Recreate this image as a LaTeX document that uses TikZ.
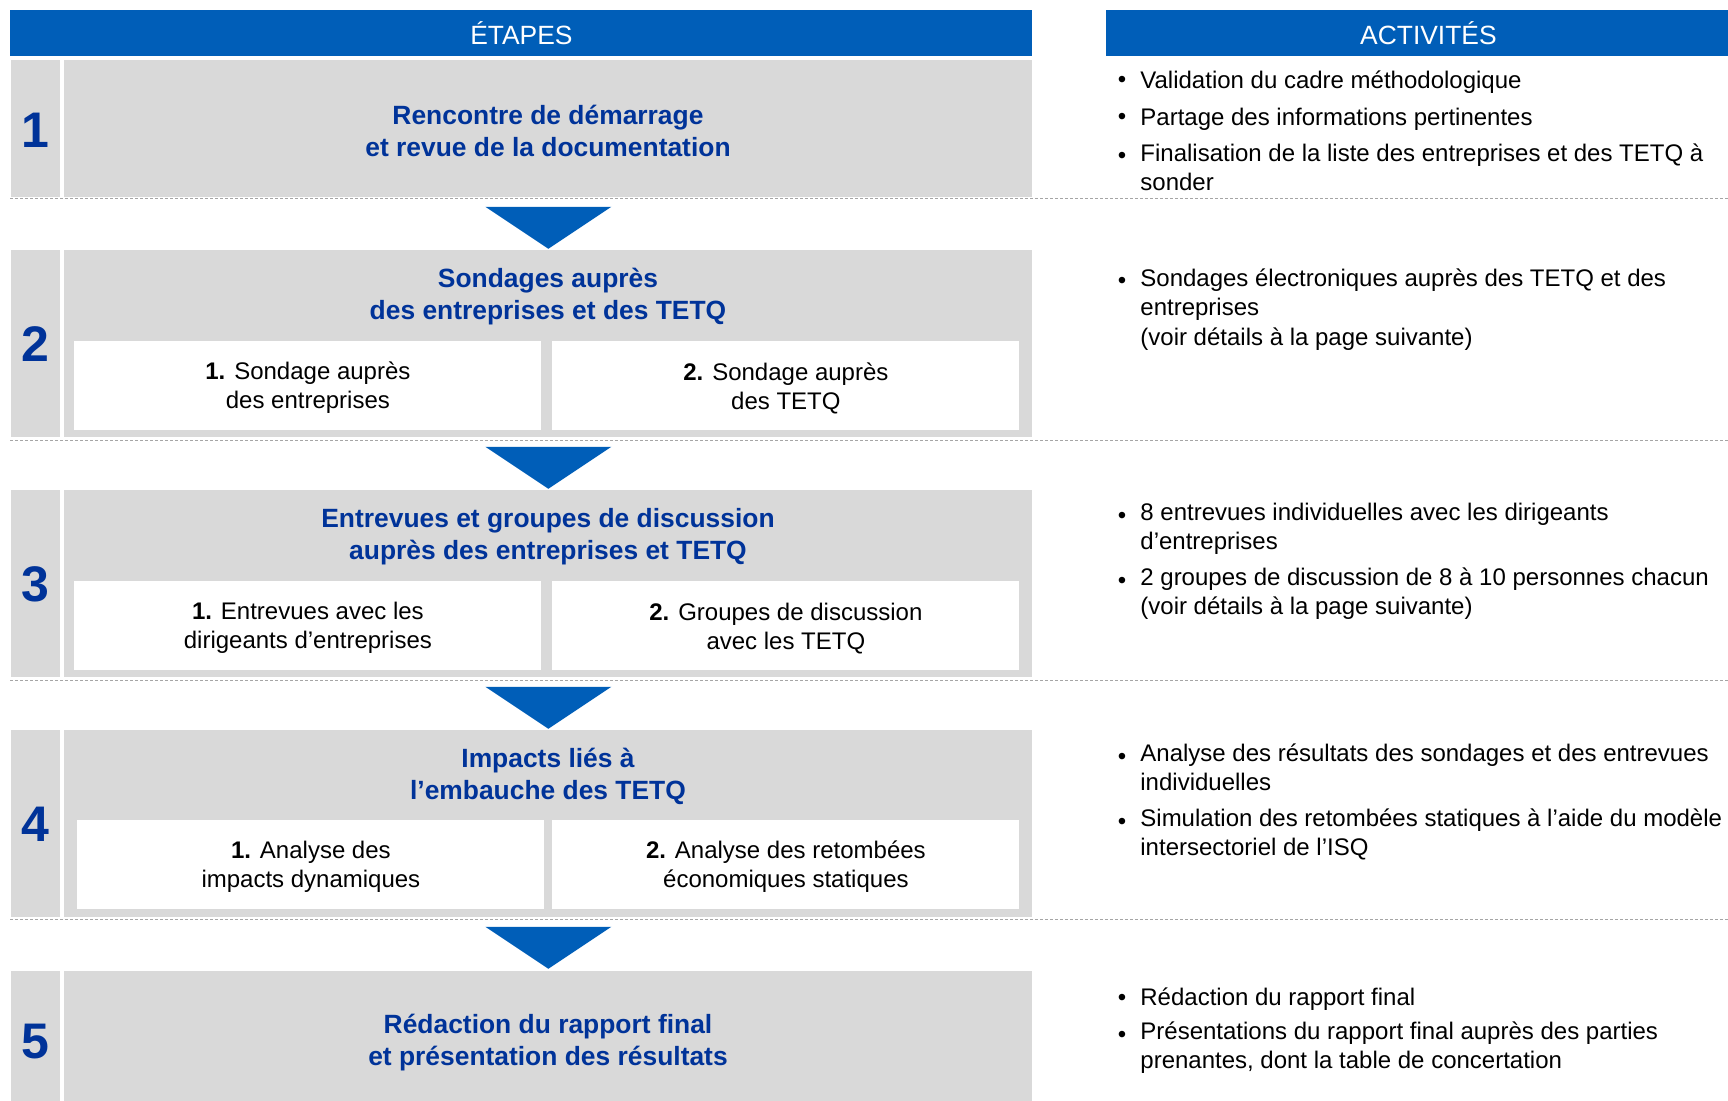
\documentclass[tikz,border=0pt]{standalone}
\usepackage{fontspec}
\setmainfont{Liberation Sans}
\usetikzlibrary{positioning}
\definecolor{bleuentete}{RGB}{0,94,184}
\definecolor{bleutitre}{RGB}{0,51,153}
\definecolor{grisfond}{RGB}{217,217,217}
\definecolor{grisligne}{RGB}{165,165,165}
\tikzset{
entete/.style={ % bandeaux bleus du haut
fill=bleuentete, text=white,
font=\fontsize{13.2}{16}\selectfont,
anchor=north west, inner sep=0pt, minimum height=23pt},
numcol/.style={fill=grisfond, anchor=north west, inner sep=0pt, minimum width=24.5pt},
etape/.style={fill=grisfond, anchor=north west, inner sep=0pt, minimum width=484pt},
numero/.style={text=bleutitre, font=\fontsize{25}{30}\selectfont\bfseries},
titre/.style={text=bleutitre, font=\fontsize{13.2}{16}\selectfont\bfseries, align=center},
sousetape/.style={ % cases blanches
fill=white, anchor=north west, inner sep=0pt,
minimum width=233.5pt, minimum height=44.5pt},
soustexte/.style={align=center, inner sep=0pt, yshift=-1.1pt, font=\fontsize{12}{14.5}\selectfont},
fleche/.style={fill=bleuentete},
separateur/.style={draw=grisligne, line width=0.5pt, dash pattern=on 1.5pt off 1pt},
activite/.style={ % la coordonnee donne la ligne de base de la 1re ligne
anchor=north west, yshift=10.22pt, align=left, inner sep=0pt,
font=\fontsize{12}{14.6}\selectfont, execute at begin node=\strut},
puce/.style={anchor=base, inner sep=0pt, font=\fontsize{12}{14.6}\selectfont}}

\begin{document}
\begin{tikzpicture}[x=0.5pt, y=-0.5pt]
	\useasboundingbox (0,0) rectangle (1728,1101);
	% en-tetes
	\node[entete, minimum width=511pt] (hEtapes) at (10,10) {ÉTAPES};
	\node[entete, minimum width=322pt] (hActivites) at (1106,10) {ACTIVITÉS};
	% etape 1
	\node[numcol, minimum height=68.5pt] (c1) at (11,60) {};
	\node[etape, minimum height=68.5pt] (e1) at (64,60) {};
	\node[numero] (n1) at (35,130) {1};
	\node[titre] (t1) at (548,131) {Rencontre de démarrage\\et revue de la documentation};
	% etape 2
	\node[numcol, minimum height=93.5pt] (c2) at (11,250) {};
	\node[etape, minimum height=93.5pt] (e2) at (64,250) {};
	\node[numero] (n2) at (c2.center) {2};
	\node[titre] (t2) at (548,297) {Sondages auprès\\des entreprises et des TETQ};
	\node[sousetape] (s21) at (74,341) {};
	\node[sousetape] (s22) at (552,341) {};
	\node[soustexte] (x21) at (s21.center) {\textbf{1.} Sondage auprès\\des entreprises};
	\node[soustexte] (x22) at (s22.center) {\textbf{2.} Sondage auprès\\des TETQ};
	% etape 3
	\node[numcol, minimum height=93.5pt] (c3) at (11,490) {};
	\node[etape, minimum height=93.5pt] (e3) at (64,490) {};
	\node[numero] (n3) at (c3.center) {3};
	\node[titre] (t3) at (548,537) {Entrevues et groupes de discussion\\auprès des entreprises et TETQ};
	\node[sousetape] (s31) at (74,581) {};
	\node[sousetape] (s32) at (552,581) {};
	\node[soustexte] (x31) at (s31.center) {\textbf{1.} Entrevues avec les\\dirigeants d’entreprises};
	\node[soustexte] (x32) at (s32.center) {\textbf{2.} Groupes de discussion\\avec les TETQ};
	% etape 4
	\node[numcol, minimum height=93.5pt] (c4) at (11,730) {};
	\node[etape, minimum height=93.5pt] (e4) at (64,730) {};
	\node[numero] (n4) at (c4.center) {4};
	\node[titre] (t4) at (548,776) {Impacts liés à\\l’embauche des TETQ};
	\node[sousetape] (s41) at (77,820) {};
	\node[sousetape] (s42) at (552,820) {};
	\node[soustexte] (x41) at (s41.center) {\textbf{1.} Analyse des\\impacts dynamiques};
	\node[soustexte] (x42) at (s42.center) {\textbf{2.} Analyse des retombées\\économiques statiques};
	% etape 5
	\node[numcol, minimum height=65pt] (c5) at (11,971) {};
	\node[etape, minimum height=65pt] (e5) at (64,971) {};
	\node[numero] (n5) at (35,1042) {5};
	\node[titre] (t5) at (548,1043) {Rédaction du rapport final\\et présentation des résultats};
	% separateurs et fleches
	\foreach \y in {199,440,680,919}
		\draw[separateur] (10,\y) -- (1728,\y);
	\foreach \e in {e1,e2,e3,e4}
		\fill[fleche] (\e.south) ++(-63,9) -- ++(126,0) -- ++(-63,42) -- cycle;
	% activites
	\node[activite] (a11) at (1140,88) {Validation du cadre méthodologique};
	\node[activite] (a12) at (1140,125) {Partage des informations pertinentes};
	\node[activite] (a13) at (1140,164) {Finalisation de la liste des entreprises et des TETQ à\\sonder};
	\node[activite] (a21) at (1140,289) {Sondages électroniques auprès des TETQ et des\\entreprises\\(voir détails à la page suivante)};
	\node[activite] (a31) at (1140,523) {8 entrevues individuelles avec les dirigeants\\d’entreprises};
	\node[activite] (a32) at (1140,588) {2 groupes de discussion de 8 à 10 personnes chacun\\(voir détails à la page suivante)};
	\node[activite] (a41) at (1140,764) {Analyse des résultats des sondages et des entrevues\\individuelles};
	\node[activite] (a42) at (1140,829) {Simulation des retombées statiques à l’aide du modèle\\intersectoriel de l’ISQ};
	\node[activite] (a51) at (1140,1005) {Rédaction du rapport final};
	\node[activite] (a52) at (1140,1042) {Présentations du rapport final auprès des parties\\prenantes, dont la table de concertation};
	\foreach \a/\y in {a11/88,a12/125,a13/164,a21/289,a31/523,a32/588,a41/764,a42/829,a51/1005,a52/1042}
		\node[puce] (p\a) at (1122,\y) {\textbullet};
\end{tikzpicture}
\end{document}
